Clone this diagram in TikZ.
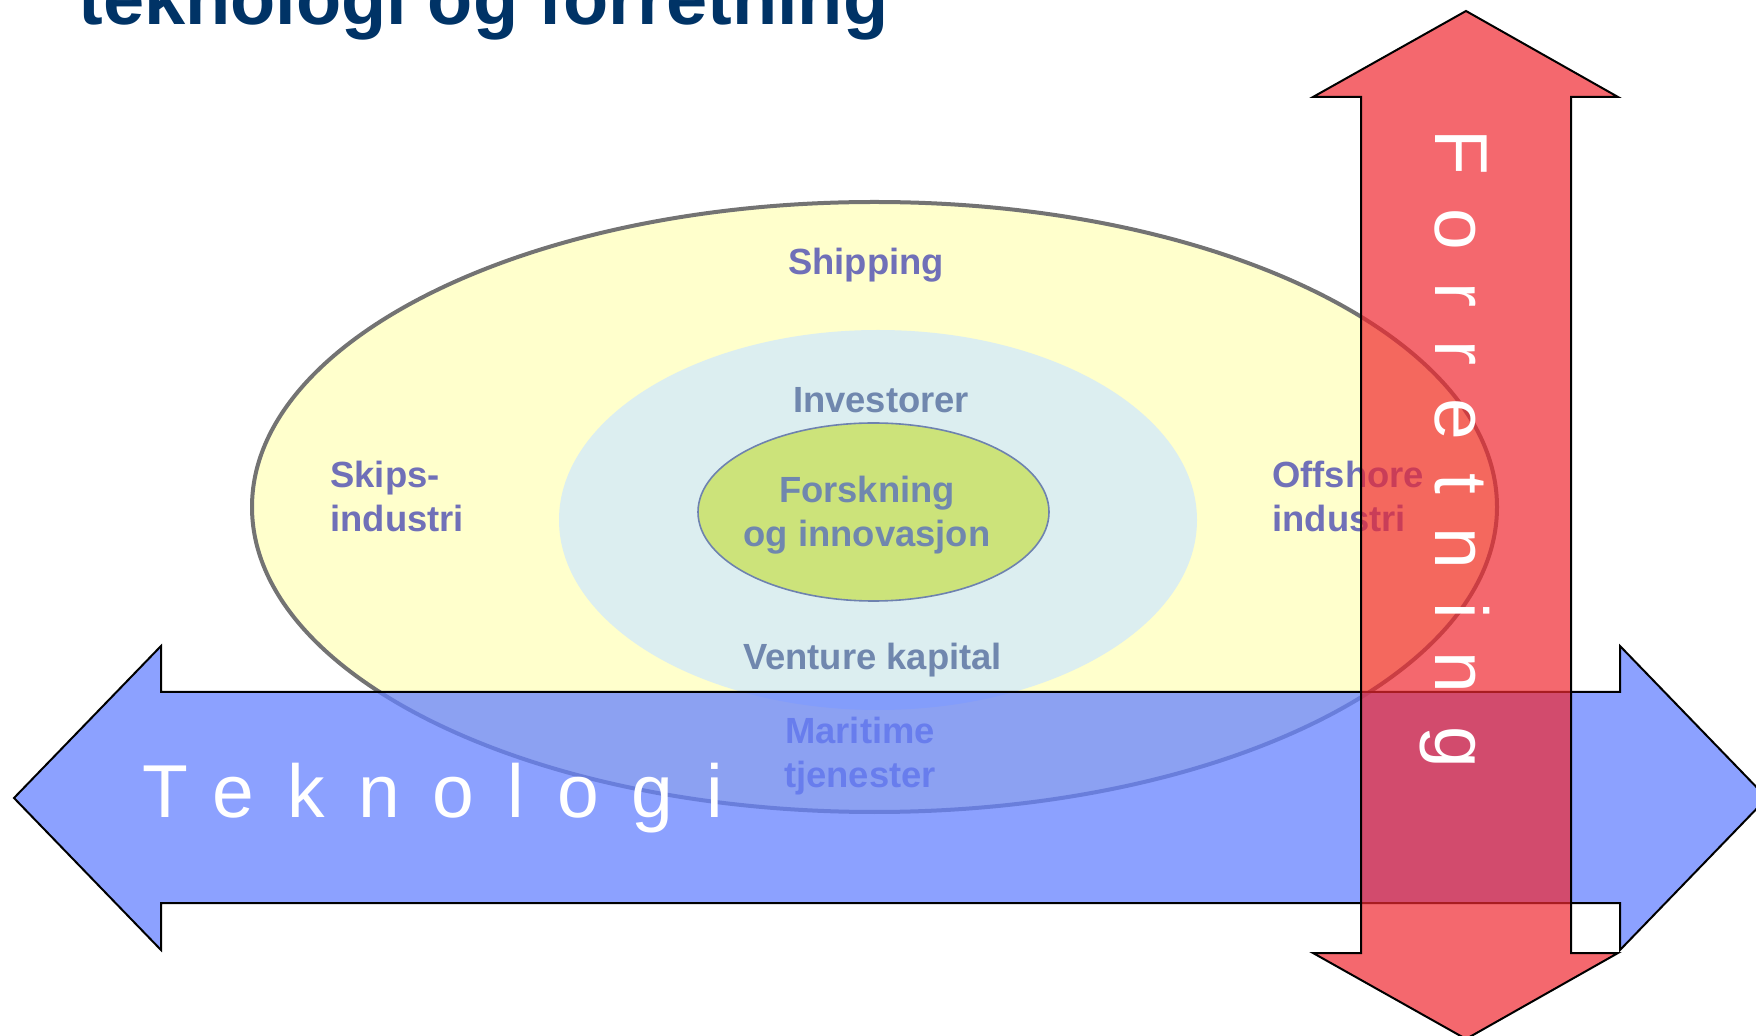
\documentclass[tikz,border=0pt]{standalone}
\usepackage{fontspec}
\setmainfont{Liberation Sans}
\newfontfamily\arrowfont[LetterSpace=44]{Liberation Sans}
\usetikzlibrary{shapes.geometric, positioning}

\definecolor{titleblue}{RGB}{0,51,102}
\definecolor{ringyellow}{RGB}{255,255,204}
\definecolor{ringcyan}{RGB}{220,238,240}
\definecolor{coregreen}{RGB}{204,227,122}
\definecolor{coreline}{RGB}{110,130,175}
\definecolor{outertext}{RGB}{112,112,184}
\definecolor{innertext}{RGB}{112,135,174}
\definecolor{techblue}{RGB}{102,130,255}
\definecolor{bizred}{RGB}{240,40,48}

\tikzset{
    ring_node/.style={ellipse, inner sep=0pt, outer sep=0pt},
    outer_ring/.style={ring_node, fill=ringyellow, draw=black!55, line width=2pt,
        minimum width=622.5pt, minimum height=305pt},
    middle_ring/.style={ring_node, fill=ringcyan,
        minimum width=319pt, minimum height=190pt},
    core_ring/.style={ring_node, fill=coregreen, draw=coreline, line width=0.8pt,
        minimum width=175.5pt, minimum height=89pt},
    label_text/.style={inner sep=0pt, align=center,
        font=\fontsize{18.2}{22}\selectfont\bfseries},
    outer_label/.style={label_text, text=outertext},
    inner_label/.style={label_text, text=innertext},
    big_arrow/.style={draw=black, line width=1pt, line join=miter},
    arrow_text/.style={inner sep=0pt, text=white,
        font=\arrowfont\fontsize{37.5}{40}\selectfont},
}

\begin{document}
\begin{tikzpicture}[x=0.5pt, y=-0.5pt]
      \useasboundingbox (0,0) rectangle (1756,1036);

      %%%%%%%%%
      % Title %
      %%%%%%%%%
      \node (title) [inner sep=0pt, anchor=base west, text=titleblue,
          font=\fontsize{37}{40}\selectfont\bfseries] at (78,25)
          {teknologi og forretning};

      %%%%%%%%%
      % Rings %
      %%%%%%%%%
      \node (outer) [outer_ring] at (874.5,507) {};
      \node (middle) [middle_ring] at (878,520) {};
      \node (core) [core_ring] at (873.5,512) {};

      \node (shipping) [outer_label, anchor=base] at (866,275) {Shipping};
      \node (skips) [outer_label, anchor=base west, align=left] at (330,532)
          {Skips-\\industri};
      \node (offshore) [outer_label, anchor=base west, align=left] at (1272,532)
          {Offshore\\industri};
      \node (maritime) [outer_label, anchor=base] at (860,788)
          {Maritime\\tjenester};
      \node (investorer) [inner_label, anchor=base] at (881,413) {Investorer};
      \node (forskning) [inner_label, anchor=base] at (867,547)
          {Forskning\\og innovasjon};
      \node (venture) [inner_label, anchor=base] at (872.5,670) {Venture kapital};

      %%%%%%%%%%
      % Arrows %
      %%%%%%%%%%
      \draw [big_arrow, fill=techblue, fill opacity=0.75]
          (14,798) -- (161,646) -- (161,692) -- (1620,692) -- (1620,646)
          -- (1767,798) -- (1620,950) -- (1620,903) -- (161,903)
          -- (161,950) -- cycle;
      \draw [big_arrow, fill=bizred, fill opacity=0.7]
          (1466,11) -- (1618,97) -- (1571,97) -- (1571,953) -- (1618,953)
          -- (1466,1039) -- (1313,953) -- (1361,953) -- (1361,97)
          -- (1313,97) -- cycle;

      \node (teknologi) [arrow_text, anchor=base west] at (142,817) {Teknologi};
      \node (forretning) [arrow_text, anchor=base west, rotate=-90] at (1435,129)
          {Forretning};
\end{tikzpicture}
\end{document}
